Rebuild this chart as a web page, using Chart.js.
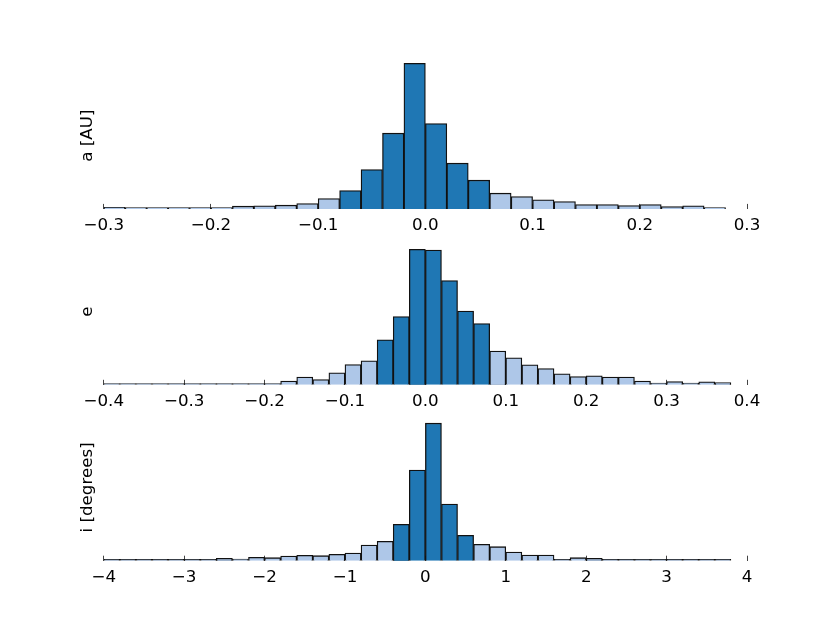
<!DOCTYPE html>
<html>
<head>
<meta charset="utf-8">
<script src="https://cdn.jsdelivr.net/npm/chart.js@4.4.0/dist/chart.umd.min.js"></script>
<style>
  body { margin: 0; background: #fff; }
  #wrap { position: relative; width: 830px; height: 623px; background: #fff; }
  canvas { position: absolute; left: 0; }
</style>
</head>
<body>
<div id="wrap">
  <canvas id="chartA" width="830" height="200" style="top:40px"></canvas>
  <canvas id="chartE" width="830" height="200" style="top:216px"></canvas>
  <canvas id="chartI" width="830" height="200" style="top:392px"></canvas>
</div>
<script>
// semieje a [AU]: bins de 0.02 desde -0.30
const aStart = -0.3;
const aStep = 0.02;
const aCounts = [1.5, 0.5, 1.3, 1.3, 0.7, 0.7, 2.7, 3, 3.7, 5.3, 10.3, 18.3, 39.3, 75.7, 145.5,
  85.3, 45.7, 28.7, 15.7, 12.3, 9, 7.3, 4.3, 4.3, 3.3, 4.3, 2.3, 3, 1];
const aCore = [-0.08, 0.06];
const aTicks = [-0.3, -0.2, -0.1, 0.0, 0.1, 0.2, 0.3];

// excentricidad e: bins de 0.02 desde -0.40
const eStart = -0.4;
const eStep = 0.02;
const eCounts = [0, 0, 0, 0, 0, 0, 0, 0.7, 1.3, 0.3, 0.3, 3.7, 7.7, 5.3, 12, 20.3, 24, 45, 68.3,
  135.5, 134.8, 104.3, 73.7, 61.3, 33.7, 27, 20, 16.3, 11, 8.3, 9, 7.7, 7.7, 3.7, 1.7, 3.3, 1.7, 3, 2.3];
const eCore = [-0.06, 0.08];
const eTicks = [-0.4, -0.3, -0.2, -0.1, 0.0, 0.1, 0.2, 0.3, 0.4];

// inclinacion i [degrees]: bins de 0.2 desde -4
const iStart = -4;
const iStep = 0.2;
const iCounts = [0.7, 0.3, 0, 0, 0.3, 1, 0.7, 2.3, 1.7, 3.3, 3, 4.7, 5.3, 5, 6.3, 7.7, 15.7, 19.3,
  36.3, 90.7, 137.5, 56.7, 25.3, 16.3, 14, 8.7, 5.7, 5.7, 1.3, 3, 2.3, 1.3, 0.3, 0.3, 1.3, 0.3, 1.3, 0.7, 0.3];
const iCore = [-0.4, 0.6];
const iTicks = [-4, -3, -2, -1, 0, 1, 2, 3, 4];

const DARK = "#1f77b4";
const LIGHT = "#aec7e8";
const FONT = { family: "DejaVu Sans", size: 16.7 };

// geometria de los ejes (como subplots de matplotlib)
const CANVAS_H = 200;
const PLOT_H = 146.6;
const PAD_LEFT = 70;
const PLOT_LEFT = 103.75;

function fmt(v, dec) {
  const s = Math.abs(v).toFixed(dec);
  return (v < -1e-9 ? "\u2212" : "") + s;
}

function makePanel(id, canvasTop, plotTop, start, step, counts, core, ticks, dec, label) {
  const points = counts.map((c, k) => ({ x: start + (k + 0.5) * step, y: c }));
  const colors = points.map((p) => (p.x > core[0] && p.x < core[1] ? DARK : LIGHT));
  const padTop = plotTop - canvasTop;

  return new Chart(document.getElementById(id), {
    type: "bar",
    data: {
      datasets: [
        {
          data: points,
          backgroundColor: colors,
          borderColor: "#111",
          borderWidth: 1.3,
          barPercentage: 1,
          categoryPercentage: 1,
          minBarLength: 1.3,
        },
      ],
    },
    options: {
      responsive: false,
      animation: false,
      layout: { padding: { left: PAD_LEFT, right: 83, top: padTop, bottom: 0 } },
      plugins: { legend: { display: false }, tooltip: { enabled: false } },
      scales: {
        x: {
          type: "linear",
          offset: false,
          min: ticks[0],
          max: ticks[ticks.length - 1],
          afterBuildTicks: (scale) => {
            scale.ticks = ticks.map((v) => ({ value: v }));
          },
          afterFit: (scale) => {
            scale.height = CANVAS_H - padTop - PLOT_H;
          },
          grid: {
            offset: false,
            drawOnChartArea: false,
            drawTicks: true,
            tickLength: -5,
            tickColor: "#444",
            tickWidth: 1,
          },
          border: { display: false },
          ticks: {
            autoSkip: false,
            maxRotation: 0,
            padding: 11.7,
            color: "#000",
            font: FONT,
            callback: (v) => fmt(v, dec),
          },
        },
        y: {
          min: 0,
          max: PLOT_H,
          afterFit: (scale) => {
            scale.width = PLOT_LEFT - PAD_LEFT;
          },
          grid: { display: false },
          border: { display: false },
          ticks: { display: false },
          title: {
            display: true,
            text: label,
            color: "#000",
            font: FONT,
            padding: { top: 8, bottom: 0 },
          },
        },
      },
    },
  });
}

makePanel("chartA", 40, 62.3, aStart, aStep, aCounts, aCore, aTicks, 1, "a [AU]");
makePanel("chartE", 216, 238.2, eStart, eStep, eCounts, eCore, eTicks, 1, "e");
makePanel("chartI", 392, 414.1, iStart, iStep, iCounts, iCore, iTicks, 0, "i [degrees]");
</script>
</body>
</html>
